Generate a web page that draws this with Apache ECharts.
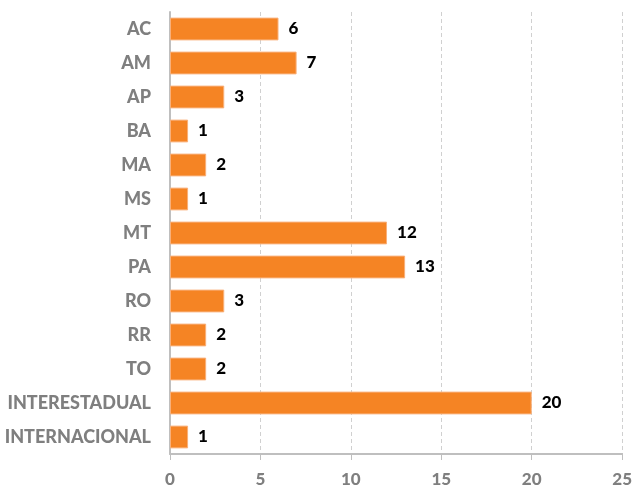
<!DOCTYPE html>
<html><head><meta charset="utf-8">
<script src="https://cdn.jsdelivr.net/npm/echarts@6/dist/echarts.min.js"></script>
<style>html,body{margin:0;padding:0;background:#fff}#c{width:635px;height:488px}</style>
</head><body><div id="c"></div>
<script>
const categories = ["AC","AM","AP","BA","MA","MS","MT","PA","RO","RR","TO","INTERESTADUAL","INTERNACIONAL"];
const values = [6,7,3,1,2,1,12,13,3,2,2,20,1];
const xTicks = [0,5,10,15,20,25];

const chart = echarts.init(document.getElementById('c'), null, {renderer:'canvas'});
chart.setOption({
  animation:false,
  grid:{left:170, right:11, top:12, bottom:32, containLabel:false},
  xAxis:{
    type:'value', min:xTicks[0], max:xTicks[xTicks.length-1], interval:5,
    axisLine:{show:true, lineStyle:{color:'#bfbfbf', width:2}},
    axisTick:{show:true, length:6, lineStyle:{color:'#bfbfbf'}},
    axisLabel:{color:'#7f7f7f', fontFamily:'Lato', fontWeight:900, fontSize:17, margin:17},
    splitLine:{show:true, lineStyle:{color:'#d0d0d0', type:[4,3]}}
  },
  yAxis:{
    type:'category', data:categories, inverse:true,
    axisLine:{show:true, lineStyle:{color:'#bfbfbf', width:2}},
    axisTick:{show:false},
    axisLabel:{color:'#7f7f7f', fontFamily:'Lato', fontWeight:900, fontSize:18, margin:19}
  },
  series:[{
    type:'bar', data:values, barCategoryGap:'33%',
    itemStyle:{color:'#F58424', borderColor:'#F9B07A', borderWidth:1},
    label:{show:true, position:'right', distance:10, color:'#000', fontFamily:'Lato', fontWeight:900, fontSize:17}
  }]
});
</script></body></html>
